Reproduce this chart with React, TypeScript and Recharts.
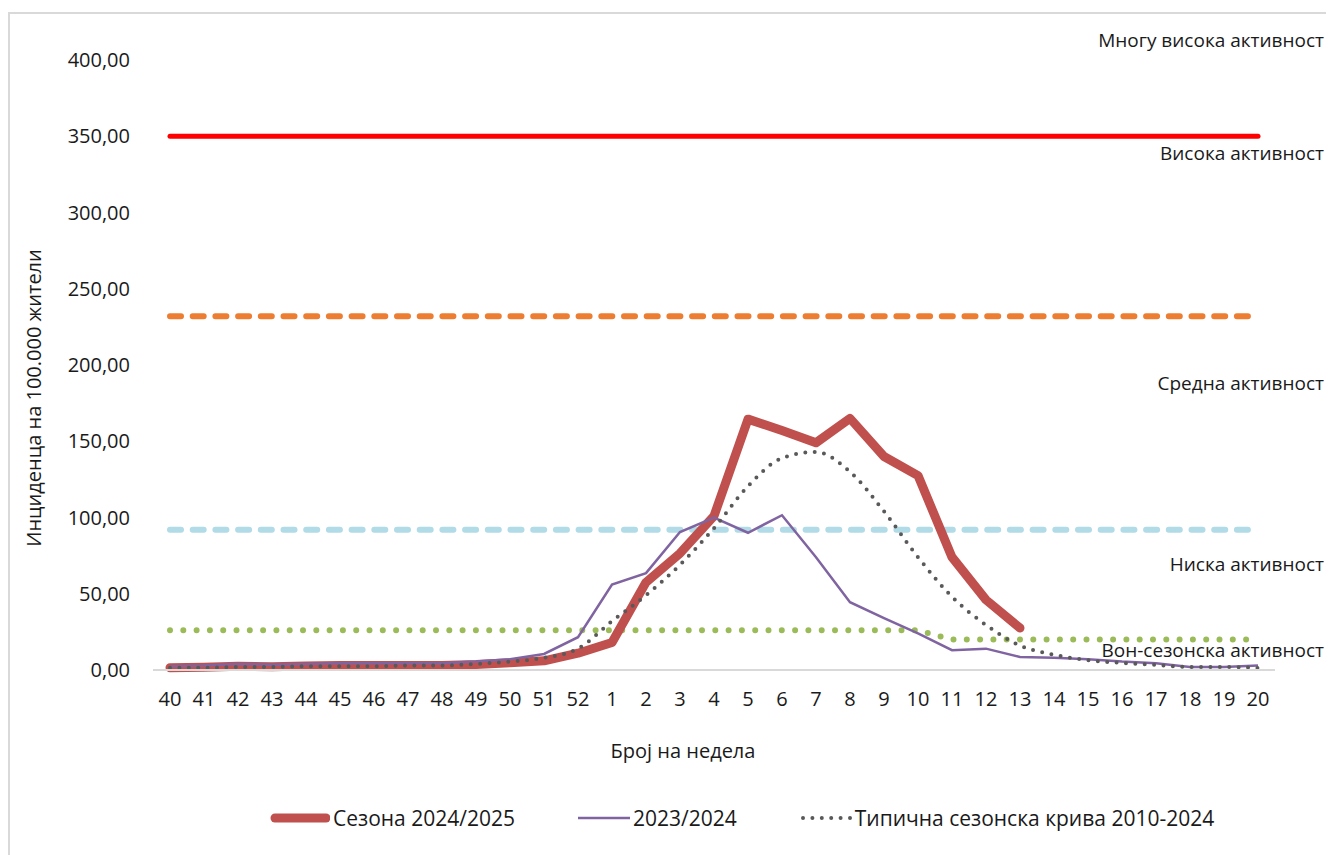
import React from "react";
import { LineChart, Line, XAxis, YAxis } from "recharts";

// weeks of the season, 40..52 then 1..20
const weeks = [
  "40", "41", "42", "43", "44", "45", "46", "47", "48", "49", "50", "51", "52",
  "1", "2", "3", "4", "5", "6", "7", "8", "9", "10", "11", "12", "13", "14",
  "15", "16", "17", "18", "19", "20",
];

// Сезона 2024/2025 (ends at week 13)
const season2425 = [
  1.5, 1.8, 2.5, 2.2, 2.6, 3, 3, 3, 3, 3.6, 4.8, 6, 11,
  18, 57.5, 76.5, 101, 164.5, 157, 149, 165, 140, 127.5, 74, 46, 27.5,
];

const season2324 = [
  2.5, 3, 4, 3.5, 4, 4.5, 4.5, 4.5, 4.5, 5.5, 7, 10.5, 21.5,
  56, 63.5, 90.5, 100, 90, 101.5, 74, 44.5, 34, 24, 13, 14, 8.5, 8,
  7, 5.5, 4.5, 2, 2, 3,
];

const typical = [
  1.5, 1.5, 2, 2, 2.5, 2.5, 2.5, 3, 3, 4, 5.5, 8, 14,
  32, 49, 69, 93, 120.5, 139, 143, 130, 104, 74, 48, 29.5, 16, 10,
  6.5, 4.6, 3.3, 2, 2, 1.3,
];

// activity thresholds
const veryHigh = 350;
const high = 232;
const medium = 92;
const lowBase = [
  26, 26, 26, 26, 26, 26, 26, 26, 26, 26, 26, 26, 26,
  26, 26, 26, 26, 26, 26, 26, 26, 26, 26, 20, 20, 20, 20,
  20, 20, 20, 20, 20, 20,
];

const yTicks = [0, 50, 100, 150, 200, 250, 300, 350, 400];

const zoneLabels = [
  { text: "Многу висока активност", top: 40 },
  { text: "Висока активност", top: 153 },
  { text: "Средна активност", top: 383 },
  { text: "Ниска активност", top: 564 },
  { text: "Вон-сезонска активност", top: 650 },
];

const data = weeks.map((w, i) => ({
  week: w,
  s2425: i < season2425.length ? season2425[i] : null,
  s2324: season2324[i],
  typical: typical[i],
  veryHigh,
  high,
  medium,
  low: lowBase[i],
}));

const FONT = "'Open Sans', sans-serif";
const TEXT = "#1a1a1a";

const fmt = (v: number) => v.toFixed(2).replace(".", ",");

function ChartLegend() {
  const item = (sample: React.ReactNode, label: string, w: number) => (
    <div style={{ display: "flex", alignItems: "center" }}>
      <svg width={w} height={14} style={{ marginRight: 3 }}>
        {sample}
      </svg>
      <span>{label}</span>
    </div>
  );
  return (
    <div
      style={{
        position: "absolute",
        left: 0,
        top: 796,
        width: 1326,
        display: "flex",
        alignItems: "center",
        paddingLeft: 262,
        gap: 63,
        fontFamily: FONT,
        fontSize: 21,
        lineHeight: "28px",
        color: TEXT,
        boxSizing: "border-box",
      }}
    >
      {item(
        <line x1={5} y1={7} x2={56} y2={7} stroke="#c0504d" strokeWidth={9} strokeLinecap="round" />,
        "Сезона 2024/2025",
        60
      )}
      {item(
        <line x1={0} y1={7} x2={52} y2={7} stroke="#8064a2" strokeWidth={2.5} />,
        "2023/2024",
        52
      )}
      {item(
        <line
          x1={3}
          y1={7}
          x2={50}
          y2={7}
          stroke="#595959"
          strokeWidth={4}
          strokeDasharray="0 9.4"
          strokeLinecap="round"
        />,
        "Типична сезонска крива 2010-2024",
        52
      )}
    </div>
  );
}

export default function App() {
  return (
    <div style={{ position: "relative", width: 1326, height: 847, fontFamily: FONT }}>
      <div
        style={{
          position: "absolute",
          left: 0,
          top: 4,
          width: 1340,
          height: 860,
          borderLeft: "2px solid #d9d9d9",
          borderTop: "2px solid #d9d9d9",
          boxSizing: "border-box",
        }}
      />
      <LineChart
        width={1326}
        height={847}
        data={data}
        margin={{ top: 52, right: 59, bottom: 155, left: 45 }}
        style={{ position: "absolute", left: 0, top: 0 }}
      >
        <XAxis
          dataKey="week"
          interval={0}
          padding={{ left: 17, right: 17 }}
          axisLine={{ stroke: "#d9d9d9", strokeWidth: 2 }}
          tickLine={false}
          tickMargin={16}
          height={30}
          tick={{ fontSize: 20, fill: TEXT, fontFamily: FONT }}
        />
        <YAxis
          domain={[0, 400]}
          ticks={yTicks}
          width={100}
          axisLine={false}
          tickLine={false}
          tickMargin={17}
          tickFormatter={fmt}
          tick={{ fontSize: 20, fill: TEXT, fontFamily: FONT }}
        />
        <Line
          dataKey="veryHigh"
          stroke="#ff0000"
          strokeWidth={5}
          strokeLinecap="round"
          dot={false}
          activeDot={false}
          isAnimationActive={false}
        />
        <Line
          dataKey="high"
          stroke="#ed7d31"
          strokeWidth={6}
          strokeDasharray="11 11.7"
          strokeLinecap="round"
          dot={false}
          activeDot={false}
          isAnimationActive={false}
        />
        <Line
          dataKey="medium"
          stroke="#b0dbe7"
          strokeWidth={6}
          strokeDasharray="11 11.7"
          strokeLinecap="round"
          dot={false}
          activeDot={false}
          isAnimationActive={false}
        />
        <Line
          dataKey="low"
          type="linear"
          stroke="#9bbb59"
          strokeWidth={6}
          strokeDasharray="0 13.3"
          strokeLinecap="round"
          dot={false}
          activeDot={false}
          isAnimationActive={false}
        />
        <Line
          dataKey="s2425"
          type="linear"
          stroke="#c0504d"
          strokeWidth={9}
          strokeLinecap="round"
          strokeLinejoin="round"
          dot={false}
          activeDot={false}
          isAnimationActive={false}
        />
        <Line
          dataKey="s2324"
          type="linear"
          stroke="#8064a2"
          strokeWidth={2.5}
          dot={false}
          activeDot={false}
          isAnimationActive={false}
        />
        <Line
          dataKey="typical"
          type="monotone"
          stroke="#595959"
          strokeWidth={4}
          strokeDasharray="0 9.4"
          strokeLinecap="round"
          dot={false}
          activeDot={false}
          isAnimationActive={false}
        />
      </LineChart>
      <ChartLegend />
      <svg
        width={1326}
        height={847}
        style={{ position: "absolute", left: 0, top: 0, pointerEvents: "none" }}
      >
        {zoneLabels.map((z) => (
          <text
            key={z.text}
            x={1316}
            y={z.top - 8}
            textAnchor="end"
            dominantBaseline="central"
            fontSize={19}
            fill={TEXT}
            fontFamily={FONT}
          >
            {z.text}
          </text>
        ))}
        <text
          x={25}
          y={390}
          transform="rotate(-90 25 390)"
          textAnchor="middle"
          dominantBaseline="central"
          fontSize={20}
          fill={TEXT}
          fontFamily={FONT}
        >
          Инциденца на 100.000 жители
        </text>
        <text
          x={675}
          y={742}
          textAnchor="middle"
          dominantBaseline="central"
          fontSize={20}
          fill={TEXT}
          fontFamily={FONT}
        >
          Број на недела
        </text>
      </svg>
    </div>
  );
}
